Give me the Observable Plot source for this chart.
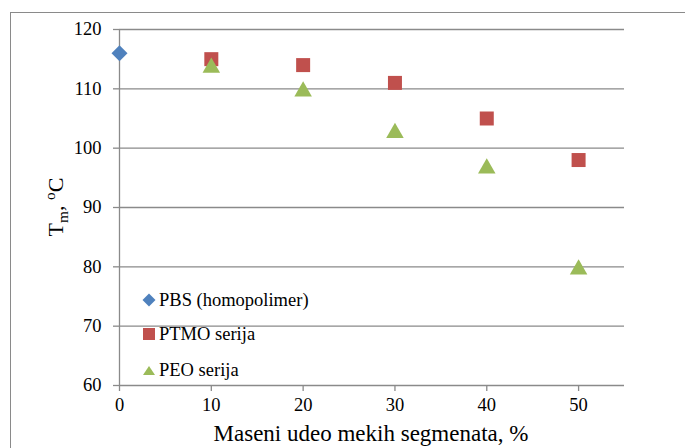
<!DOCTYPE html>
<html>
<head>
<meta charset="utf-8">
<script src="https://cdn.jsdelivr.net/npm/d3@7"></script>
<script src="https://cdn.jsdelivr.net/npm/@observablehq/plot@0.6"></script>
<style>
  html, body { margin: 0; padding: 0; background: #fff; }
  #wrap { position: relative; width: 685px; height: 448px; overflow: hidden; background: #fff; font-family: "Liberation Serif", "Times New Roman", serif; }
  #border { position: absolute; left: 10px; top: 12px; width: 720px; height: 520px; border: 1px solid #8a8a8a; box-sizing: border-box; }
  #chart { position: absolute; left: 0; top: 0; }
  #chart svg text { font-family: "Liberation Serif", "Times New Roman", serif; }
  #ylab { position: absolute; left: 56px; top: 207px; transform: translate(-50%, -50%) rotate(-90deg); font-size: 22px; line-height: 22px; white-space: nowrap; color: #000; }
  #ylab sub, #ylab sup { font-size: 0.7em; line-height: 0; }
  #xlab { position: absolute; left: 371px; top: 422px; transform: translateX(-50%); font-size: 23px; line-height: 24px; white-space: nowrap; color: #000; }
  .leg { position: absolute; left: 142px; height: 20px; font-size: 18.5px; line-height: 20px; white-space: nowrap; display: flex; align-items: center; color: #000; }
  .leg svg { margin-right: 3px; flex: none; }
</style>
</head>
<body>
<div id="wrap">
  <div id="border"></div>
  <div id="chart"></div>
  <div id="ylab">T<sub>m</sub>, <sup>o</sup>C</div>
  <div id="xlab">Maseni udeo mekih segmenata, %</div>
</div>
<script>
// ---- data ----
const xTicks = [0, 10, 20, 30, 40, 50];
const yTicks = [60, 70, 80, 90, 100, 110, 120];
const seriesNames = ["PBS (homopolimer)", "PTMO serija", "PEO serija"];
const seriesColors = ["#4F81BD", "#C0504D", "#9BBB59"];
const pbsX = [0];
const pbsY = [116];
const ptmoX = [10, 20, 30, 40, 50];
const ptmoY = [115, 114, 111, 105, 98];
const peoX = [10, 20, 30, 40, 50];
const peoY = [114, 110, 103, 97, 80];

const pbs = pbsX.map((x, i) => ({x, y: pbsY[i]}));
const ptmo = ptmoX.map((x, i) => ({x, y: ptmoY[i]}));
const peo = peoX.map((x, i) => ({x, y: peoY[i]}));

const diamond = {
  draw(ctx, size) {
    const h = Math.sqrt(size / Math.PI);
    ctx.moveTo(0, -h); ctx.lineTo(h, 0); ctx.lineTo(0, h); ctx.lineTo(-h, 0); ctx.closePath();
  }
};

const grey = "#8a8a8a";

const chart = Plot.plot({
  width: 685,
  height: 448,
  marginLeft: 119,
  marginRight: 61,
  marginTop: 29,
  marginBottom: 63,
  style: { fontFamily: '"Liberation Serif", "Times New Roman", serif', background: "transparent" },
  x: { domain: [0, 55], ticks: xTicks },
  y: { domain: [60, 120], ticks: yTicks },
  marks: [
    Plot.gridY(yTicks, { stroke: grey, strokeOpacity: 1, strokeWidth: 1.3 }),
    Plot.ruleX([xTicks[0]], { stroke: grey, strokeWidth: 1.3 }),
    Plot.axisY({ ticks: yTicks, tickSize: 6, tickPadding: 12, fontSize: 18.5, label: null, stroke: grey, fill: "#000", strokeWidth: 1.3 }),
    Plot.axisX({ ticks: xTicks, tickSize: 6, tickPadding: 6, fontSize: 18.5, label: null, stroke: grey, fill: "#000", strokeWidth: 1.3 }),
    Plot.dot(pbs, { x: "x", y: "y", symbol: diamond, r: 8, fill: seriesColors[0], stroke: "none" }),
    Plot.dot(ptmo, { x: "x", y: "y", symbol: "square", r: 7.9, fill: seriesColors[1], stroke: "none" }),
    Plot.dot(peo, { x: "x", y: "y", symbol: "triangle", r: 6.5, dy: 2.5, fill: seriesColors[2], stroke: "none" })
  ]
});
document.getElementById("chart").appendChild(chart);

// ---- legend (inside plot area) ----
const legendTops = [290, 324, 360];
const legendShapes = [
  '<path d="M7,0.5 L13.5,7 L7,13.5 L0.5,7 Z"/>',
  '<rect x="1" y="1" width="12" height="12"/>',
  '<path d="M7,3 L13,12 L1,12 Z"/>'
];
const wrap = document.getElementById("wrap");
seriesNames.forEach((name, i) => {
  const d = document.createElement("div");
  d.className = "leg";
  d.style.top = legendTops[i] + "px";
  d.innerHTML = `<svg width="14" height="14" viewBox="0 0 14 14" fill="${seriesColors[i]}">${legendShapes[i]}</svg><span>${name}</span>`;
  wrap.appendChild(d);
});
</script>
</body>
</html>
